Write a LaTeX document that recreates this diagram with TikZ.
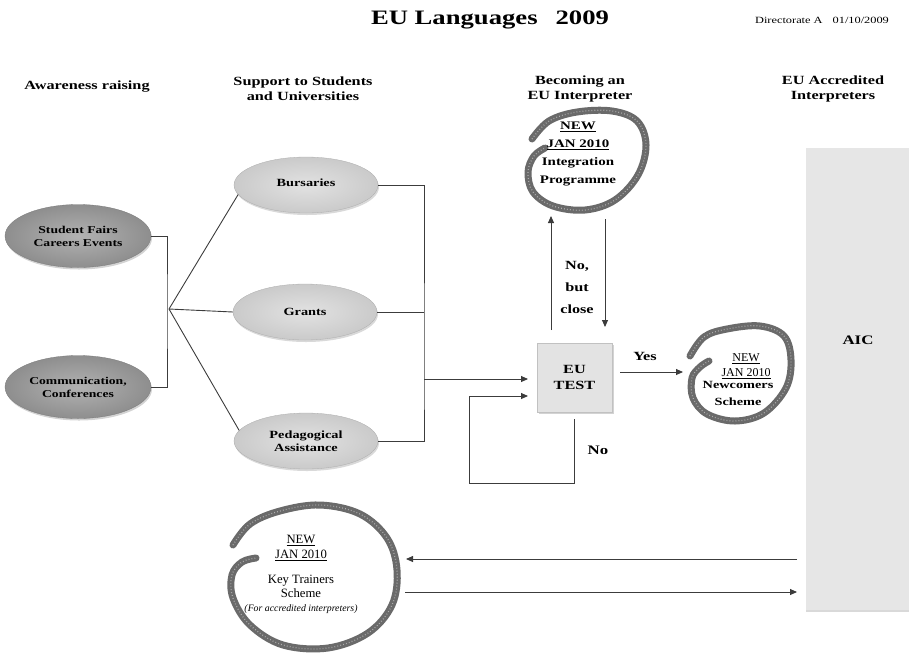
\documentclass[tikz,border=0pt]{standalone}
\usepackage{fontspec}
\setmainfont{Liberation Serif}
\newfontfamily\gara{Liberation Serif}[FakeStretch=1.3]
\usetikzlibrary{shapes.geometric,arrows.meta,shadows}
\definecolor{darkin}{HTML}{B2B2B2}
\definecolor{darkout}{HTML}{8E8E8E}
\definecolor{lightin}{HTML}{E2E2E2}
\definecolor{lightout}{HTML}{CACACA}
\definecolor{boxgray}{HTML}{E3E3E3}
\definecolor{barg}{HTML}{E6E6E6}
\definecolor{scrib}{HTML}{6A6A6A}
\definecolor{lin}{HTML}{3C3C3C}
\begin{document}
\begin{tikzpicture}[x=1pt,y=-1pt,
  darkel/.style={ellipse,shading=radial,inner color=darkin,outer color=darkout,draw=darkout!85!black,line width=0.3pt,drop shadow={shadow xshift=1pt,shadow yshift=-2pt,opacity=0.35},align=center,inner sep=0pt,font=\gara\fontsize{10.5}{13}\selectfont\bfseries},
  lightel/.style={ellipse,shading=radial,inner color=lightin,outer color=lightout,draw=lightout!85!black,line width=0.3pt,drop shadow={shadow xshift=1pt,shadow yshift=-2pt,opacity=0.3},align=center,inner sep=0pt,minimum width=144pt,minimum height=56pt,font=\gara\fontsize{11}{13.5}\selectfont\bfseries},
  hdr/.style={align=center,font=\gara\fontsize{12.5}{15}\selectfont\bfseries},
  lbl/.style={align=center,font=\gara\fontsize{12.5}{22}\selectfont\bfseries},
  conn/.style={draw=lin,line width=0.9pt},
  arr/.style={conn,-{Triangle[length=7pt,width=6pt]}},
  scribble/.style={draw=scrib,line width=7pt,line cap=round,line join=round},
  scribtex/.style={draw=white,opacity=0.45,line width=1.2pt,dash pattern=on 0.8pt off 2.2pt},
  txt/.style={align=center,inner sep=0pt}
]
\useasboundingbox (0,0) rectangle (909,654);

% title
\node[txt,font=\gara\fontsize{20.5}{24}\selectfont\bfseries] (title) at (490,20) {EU Languages\hspace{18pt}2009};
\node[txt,font=\gara\fontsize{9.5}{11}\selectfont] (dir) at (822,20) {Directorate A\hspace{10pt}01/10/2009};

% headers
\node[hdr] (h1) at (87,87) {Awareness raising};
\node[hdr] (h2) at (303,89) {Support to Students\\and Universities};
\node[hdr] (h3) at (580,89) {Becoming an\\EU Interpreter};
\node[hdr] (h4) at (833,89) {EU Accredited\\Interpreters};

% AIC bar
\node[fill=barg,minimum width=103pt,minimum height=462pt,inner sep=0pt,
  drop shadow={shadow xshift=0pt,shadow yshift=-2pt,opacity=0.3}] (aic) at (857.5,379) {};
\node[txt,font=\gara\fontsize{13}{15}\selectfont\bfseries] (aict) at (858,340) {AIC};

% awareness ellipses
\node[darkel,minimum width=146pt,minimum height=63pt] (sf) at (78,236) {Student Fairs\\Careers Events};
\node[darkel,minimum width=146pt,minimum height=63pt] (cc) at (78,387) {Communication,\\Conferences};

% support ellipses
\node[lightel] (bur) at (306,185) {\raisebox{5pt}{Bursaries}};
\node[lightel] (gra) at (305,312) {Grants};
\node[lightel] (ped) at (306,441) {Pedagogical\\Assistance};

% EU test box
\node[fill=boxgray,draw=boxgray!85!black,line width=0.3pt,minimum width=75pt,minimum height=69pt,
  drop shadow={shadow xshift=1.5pt,shadow yshift=-1.5pt,opacity=0.35},align=center,
  font=\gara\fontsize{12.5}{16}\selectfont\bfseries] (test) at (574.5,377.5) {EU\\TEST};

% coordinates
\coordinate (lb) at (167,311);
\coordinate (fan) at (169,309);
\coordinate (rbj) at (424,379);
\coordinate (t1) at (528,379);
\coordinate (t2) at (528,396);
\coordinate (l1) at (574,419);
\coordinate (l2) at (574,483);
\coordinate (l3) at (469,483);
\coordinate (l4) at (469,396);
\coordinate (y1) at (620,372);
\coordinate (y2) at (683,372);
\coordinate (u1) at (551,330);
\coordinate (u2) at (551,216);
\coordinate (d1) at (605,219);
\coordinate (d2) at (605,327);
\coordinate (a1) at (797,559);
\coordinate (a2) at (406,559);
\coordinate (b1) at (405,592);
\coordinate (b2) at (797,592);

% left bracket and fan
\draw[conn] (sf.east) -| (lb) |- (cc.east);
\draw[conn] (fan) -- (bur.188);
\draw[conn] (fan) -- (gra.west);
\draw[conn] (fan) -- (ped.171);

% right bracket
\draw[conn] (bur.east) -| (rbj) |- (ped.east);
\draw[conn] (gra.east) -- (gra.east -| rbj);
\draw[arr] (rbj) -- (t1);

% loop
\draw[arr] (l1) -- (l2) -- (l3) -- (l4) -- (t2);
\node[lbl,font=\gara\fontsize{13}{22}\selectfont\bfseries] (no) at (598,450) {No};

% yes
\draw[arr] (y1) -- (y2);
\node[lbl] (yes) at (645,356) {Yes};

% up/down
\draw[arr] (u1) -- (u2);
\draw[arr] (d1) -- (d2);
\node[lbl] (close) at (577,287) {No,\\but\\close};

% bottom arrows
\draw[arr] (a1) -- (a2);
\draw[arr] (b1) -- (b2);

% scribbles
\foreach \st in {scribble,scribtex}{
\draw[\st] plot[smooth,tension=0.6] coordinates {(532,139) (549,121) (577,112) (612,111) (637,121) (646,145) (638,175) (615,200) (585,210) (553,206) (533,192) (528,172) (534,156) (545,148)};
\draw[\st] plot[smooth,tension=0.6] coordinates {(690,356) (704,337) (727,329) (760,326) (784,336) (791,360) (786,388) (764,413) (735,421) (707,414) (693,398) (692,378) (700,367) (709,361)};
\draw[\st] plot[smooth,tension=0.6] coordinates {(233,545) (250,524) (280,511) (320,505) (360,514) (387,538) (397,570) (392,605) (368,633) (328,648) (283,645) (250,625) (233,598) (232,575) (242,562) (256,558)};
}

% scribble texts
\node[txt,font=\gara\fontsize{11.5}{17.7}\selectfont\bfseries] (intg) at (578,154) {\underline{NEW}\\\underline{JAN 2010}\\Integration\\Programme};
\node[txt,font=\fontsize{12}{15}\selectfont] (newa) at (746,366) {\underline{NEW}\\\underline{JAN 2010}};
\node[txt,font=\gara\fontsize{11}{17}\selectfont\bfseries] (newb) at (738,393.5) {Newcomers\\Scheme};
\node[txt,font=\fontsize{12.7}{15}\selectfont] (kta) at (301,548) {\underline{NEW}\\\underline{JAN 2010}};
\node[txt,font=\fontsize{12.7}{14.5}\selectfont] (ktb) at (301,586.5) {Key Trainers\\Scheme};
\node[txt,font=\fontsize{9.8}{11}\selectfont\itshape] (ktc) at (301,609) {(For accredited interpreters)};
\end{tikzpicture}
\end{document}
